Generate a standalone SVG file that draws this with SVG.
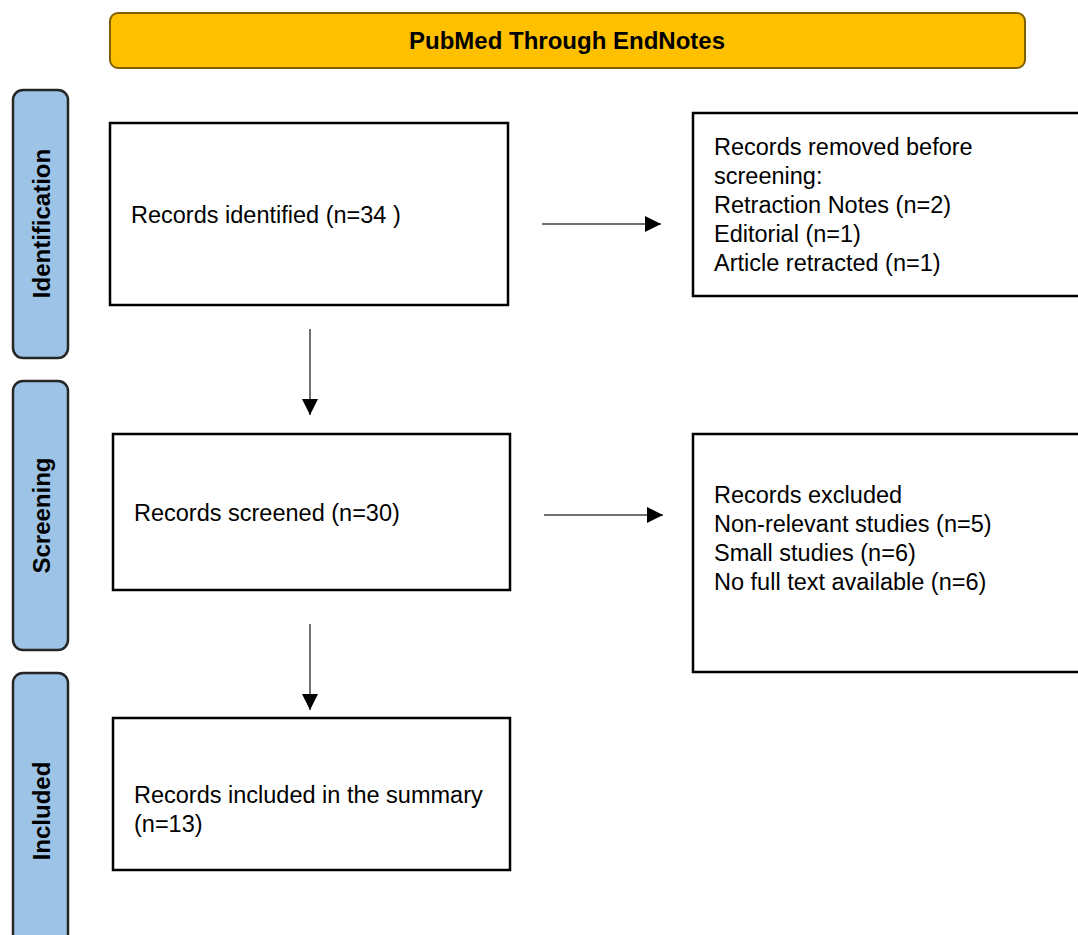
<svg xmlns="http://www.w3.org/2000/svg" width="1078" height="935" viewBox="0 0 1078 935">
<style>
.hdr{fill:#FFC000;stroke:#7F6000;stroke-width:2}
.side{fill:#9DC3E6;stroke:#262626;stroke-width:2.5}
.box{fill:#FFFFFF;stroke:#000000;stroke-width:2.5}
.t{font-family:"Liberation Sans",Arial,sans-serif;font-size:23.5px;fill:#000}
.b{font-family:"Liberation Sans",Arial,sans-serif;font-size:24px;font-weight:bold;fill:#000}
.conn{stroke:#404040;stroke-width:1.5;fill:none}
</style>
<defs>
<marker id="ah" markerUnits="userSpaceOnUse" markerWidth="16" markerHeight="16" refX="16" refY="8" orient="auto">
<path d="M0,0 L16,8 L0,16 Z" fill="#000"/>
</marker>
</defs>
<rect width="1078" height="935" fill="#FFFFFF"/>
<g id="header">
<rect class="hdr" x="110" y="13" width="915" height="55" rx="8"/>
<text class="b" x="567" y="49" text-anchor="middle">PubMed Through EndNotes</text>
</g>
<g id="stage-identification">
<rect class="side" x="13" y="90" width="55" height="268" rx="10"/>
<text class="b" transform="translate(50,223.5) rotate(-90)" text-anchor="middle">Identification</text>
</g>
<g id="stage-screening">
<rect class="side" x="13" y="381" width="55" height="269" rx="10"/>
<text class="b" transform="translate(50,515.5) rotate(-90)" text-anchor="middle">Screening</text>
</g>
<g id="stage-included">
<rect class="side" x="13" y="673" width="55" height="276" rx="10"/>
<text class="b" transform="translate(50,811) rotate(-90)" text-anchor="middle">Included</text>
</g>
<g id="identified">
<rect class="box" x="110" y="123" width="398" height="182"/>
<text class="t" x="131" y="223">Records identified (n=34 )</text>
</g>
<g id="removed">
<rect class="box" x="693" y="113" width="400" height="183"/>
<text class="t" x="714" y="155">Records removed before</text>
<text class="t" x="714" y="184">screening:</text>
<text class="t" x="714" y="213">Retraction Notes (n=2)</text>
<text class="t" x="714" y="242">Editorial (n=1)</text>
<text class="t" x="714" y="271">Article retracted (n=1)</text>
</g>
<g id="screened">
<rect class="box" x="113" y="434" width="397" height="156"/>
<text class="t" x="134" y="521">Records screened (n=30)</text>
</g>
<g id="excluded">
<rect class="box" x="693" y="434" width="400" height="238"/>
<text class="t" x="714" y="503">Records excluded</text>
<text class="t" x="714" y="532">Non-relevant studies (n=5)</text>
<text class="t" x="714" y="561">Small studies (n=6)</text>
<text class="t" x="714" y="590">No full text available (n=6)</text>
</g>
<g id="included">
<rect class="box" x="113" y="718" width="397" height="152"/>
<text class="t" x="134" y="803">Records included in the summary</text>
<text class="t" x="134" y="832">(n=13)</text>
</g>
<g id="connectors">
<line class="conn" x1="310" y1="329" x2="310" y2="415" marker-end="url(#ah)"/>
<line class="conn" x1="310" y1="624" x2="310" y2="710" marker-end="url(#ah)"/>
<line class="conn" x1="542" y1="224" x2="661" y2="224" marker-end="url(#ah)"/>
<line class="conn" x1="544" y1="515" x2="663" y2="515" marker-end="url(#ah)"/>
</g>
</svg>
